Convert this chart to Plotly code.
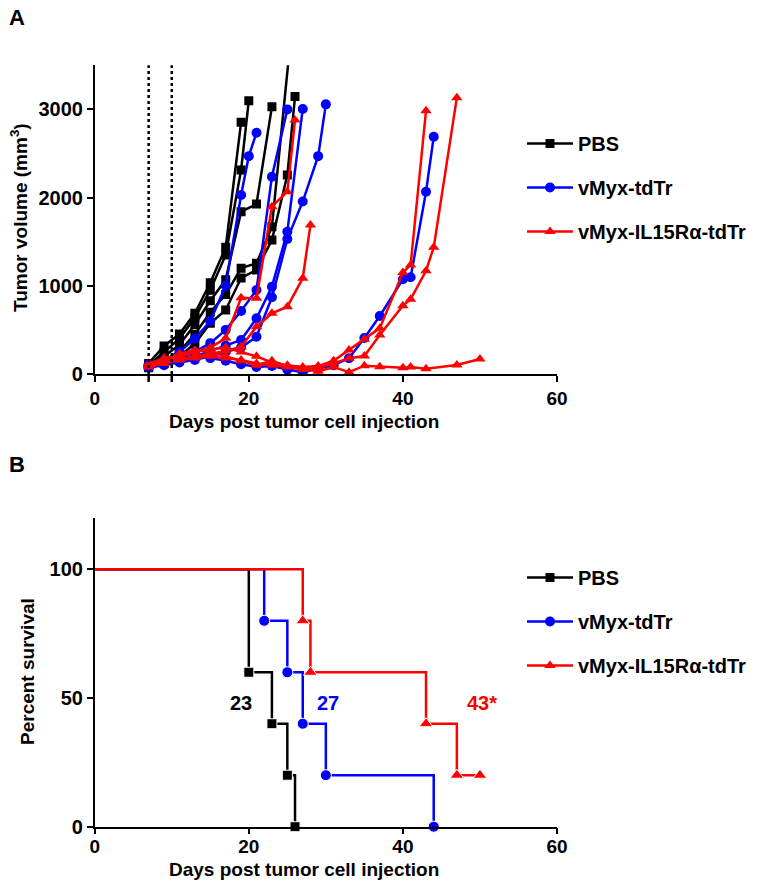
import plotly.graph_objects as go

# ---------------- DATA ----------------
GROUP_NAMES = ["PBS", "vMyx-tdTr", "vMyx-IL15Rα-tdTr"]
GROUP_COLORS = ["#000000", "#0000ff", "#ff0000"]
GROUP_SYMBOLS = ["square", "circle", "triangle-up"]

# Panel A: tumor volume per mouse (days, mm^3)
PBS_M1_DAYS = [7, 9, 11, 13, 15, 17, 19, 20]
PBS_M1_VOL = [100, 250, 400, 640, 950, 1350, 2313, 3099]
PBS_M2_DAYS = [7, 9, 11, 13, 15, 17, 19]
PBS_M2_VOL = [120, 318, 453, 688, 1035, 1436, 2853]
PBS_M3_DAYS = [7, 9, 11, 13, 15, 17, 19, 21, 23]
PBS_M3_VOL = [90, 200, 330, 560, 830, 1070, 1840, 1927, 3031]
PBS_M4_DAYS = [7, 9, 11, 13, 15, 17, 19, 21, 23, 26]
PBS_M4_VOL = [80, 150, 260, 450, 700, 900, 1200, 1255, 1670, 4300]
PBS_M5_DAYS = [7, 9, 11, 13, 15, 17, 19, 21, 23, 25, 26]
PBS_M5_VOL = [70, 120, 200, 345, 575, 726, 1088, 1180, 1519, 2256, 3145]

TDTR_M1_DAYS = [7, 9, 11, 13, 15, 17, 19, 20, 21]
TDTR_M1_VOL = [90, 150, 250, 400, 600, 1000, 2030, 2470, 2736]
TDTR_M2_DAYS = [7, 9, 11, 13, 15, 17, 19, 21, 23, 25]
TDTR_M2_VOL = [100, 130, 180, 250, 350, 500, 714, 952, 2237, 3000]
TDTR_M3_DAYS = [7, 9, 11, 13, 15, 17, 19, 21, 23, 25, 27]
TDTR_M3_VOL = [80, 110, 150, 200, 260, 320, 385, 631, 990, 1614, 3005]
TDTR_M4_DAYS = [7, 9, 11, 13, 15, 17, 19, 21, 23, 25, 27, 29, 30]
TDTR_M4_VOL = [70, 100, 130, 160, 200, 250, 300, 423, 870, 1530, 1955, 2470, 3057]
TDTR_M5_DAYS = [7, 9, 11, 13, 15, 17, 19, 21, 23, 25, 27, 29, 31, 33, 35, 37, 40, 41, 43, 44]
TDTR_M5_VOL = [110, 150, 180, 200, 180, 150, 110, 80, 90, 50, 20, 60, 100, 178, 408, 658, 1074, 1096, 2067, 2690]

IL15_M1_DAYS = [7, 9, 11, 13, 15, 17, 19, 21, 23, 25, 26]
IL15_M1_VOL = [100, 150, 200, 250, 300, 405, 865, 858, 1897, 2067, 2880]
IL15_M2_DAYS = [7, 9, 11, 13, 15, 17, 19, 21, 23, 25, 27, 28]
IL15_M2_VOL = [90, 130, 170, 200, 230, 260, 310, 536, 688, 763, 1085, 1690]
IL15_M3_DAYS = [7, 9, 11, 13, 15, 17, 19, 21, 23, 25, 27, 29, 31, 33, 35, 37, 40, 41, 43]
IL15_M3_VOL = [120, 180, 220, 260, 280, 300, 250, 200, 130, 100, 80, 90, 150, 272, 393, 520, 1150, 1236, 2985]
IL15_M4_DAYS = [7, 9, 11, 13, 15, 17, 19, 21, 23, 25, 27, 29, 31, 33, 35, 37, 40, 41, 43, 44, 47]
IL15_M4_VOL = [80, 120, 160, 180, 200, 180, 160, 120, 100, 80, 50, 70, 121, 178, 204, 442, 774, 847, 1171, 1436, 3133]
IL15_M5_DAYS = [7, 9, 11, 13, 15, 17, 19, 21, 23, 25, 27, 29, 31, 33, 35, 37, 40, 41, 43, 47, 50]
IL15_M5_VOL = [110, 160, 230, 270, 250, 200, 150, 100, 150, 90, 60, 30, 80, 20, 94, 83, 70, 80, 60, 102, 170]

TREATMENT_DAYS = [7, 10]

# Panel B: Kaplan-Meier survival (days, percent)
PBS_SURV_DAYS = [0, 20, 23, 25, 26]
PBS_SURV_PCT = [100, 60, 40, 20, 0]
TDTR_SURV_DAYS = [0, 22, 25, 27, 30, 44]
TDTR_SURV_PCT = [100, 80, 60, 40, 20, 0]
IL15_SURV_DAYS = [0, 27, 28, 43, 47, 50]
IL15_SURV_PCT = [100, 80, 60, 40, 20, 20]

MEDIAN_LABELS = ["23", "27", "43*"]
MEDIAN_LABEL_X = [19, 30.3, 50.3]
MEDIAN_LABEL_Y = [48, 48, 48]

X_TICKS = [0, 20, 40, 60]
YA_TICKS = [0, 1000, 2000, 3000]
YB_TICKS = [0, 50, 100]

# ---------------- FIGURE ----------------
W, H = 757, 889
FONT = "Liberation Sans, Arial, sans-serif"


def px_x(p):
    return p / W


def px_y(p):
    return 1 - p / H


XDOM = [px_x(94.7), px_x(557)]
YA_DOM = [px_y(374), px_y(65.3)]
YB_DOM = [px_y(826.7), px_y(517.8)]

fig = go.Figure()

groups_a = [
    [(PBS_M1_DAYS, PBS_M1_VOL), (PBS_M2_DAYS, PBS_M2_VOL), (PBS_M3_DAYS, PBS_M3_VOL),
     (PBS_M4_DAYS, PBS_M4_VOL), (PBS_M5_DAYS, PBS_M5_VOL)],
    [(TDTR_M1_DAYS, TDTR_M1_VOL), (TDTR_M2_DAYS, TDTR_M2_VOL), (TDTR_M3_DAYS, TDTR_M3_VOL),
     (TDTR_M4_DAYS, TDTR_M4_VOL), (TDTR_M5_DAYS, TDTR_M5_VOL)],
    [(IL15_M1_DAYS, IL15_M1_VOL), (IL15_M2_DAYS, IL15_M2_VOL), (IL15_M3_DAYS, IL15_M3_VOL),
     (IL15_M4_DAYS, IL15_M4_VOL), (IL15_M5_DAYS, IL15_M5_VOL)],
]
msize = [9, 10, 10]
msize_b = [10, 11, 12]

for gi, mice in enumerate(groups_a):
    for mi, (d, v) in enumerate(mice):
        fig.add_trace(go.Scatter(
            x=d, y=v, mode="lines+markers",
            line=dict(color=GROUP_COLORS[gi], width=2.5),
            marker=dict(symbol=GROUP_SYMBOLS[gi], size=msize[gi], color=GROUP_COLORS[gi]),
            name=GROUP_NAMES[gi], legendgroup="a" + str(gi), legend="legend",
            showlegend=(mi == 0), xaxis="x", yaxis="y",
            cliponaxis=True, hoverinfo="skip",
        ))

surv = [(PBS_SURV_DAYS, PBS_SURV_PCT), (TDTR_SURV_DAYS, TDTR_SURV_PCT), (IL15_SURV_DAYS, IL15_SURV_PCT)]
for gi, (d, p) in enumerate(surv):
    sizes = [0] + [msize_b[gi]] * (len(d) - 1)
    fig.add_trace(go.Scatter(
        x=d, y=p, mode="lines+markers", line_shape="hv",
        line=dict(color=GROUP_COLORS[gi], width=2.5),
        marker=dict(symbol=GROUP_SYMBOLS[gi], size=sizes, color=GROUP_COLORS[gi], opacity=1),
        name=GROUP_NAMES[gi], legendgroup="b" + str(gi), legend="legend2",
        showlegend=False, xaxis="x2", yaxis="y2", cliponaxis=False, hoverinfo="skip",
    ))
    fig.add_trace(go.Scatter(
        x=[None], y=[None], mode="lines+markers",
        line=dict(color=GROUP_COLORS[gi], width=2.5),
        marker=dict(symbol=GROUP_SYMBOLS[gi], size=msize[gi], color=GROUP_COLORS[gi]),
        name=GROUP_NAMES[gi], legendgroup="b" + str(gi), legend="legend2",
        showlegend=True, xaxis="x2", yaxis="y2",
    ))

for i, lab in enumerate(MEDIAN_LABELS):
    fig.add_annotation(x=MEDIAN_LABEL_X[i], y=MEDIAN_LABEL_Y[i], xref="x2", yref="y2",
                       text=lab, showarrow=False, xanchor="center", yanchor="middle",
                       font=dict(family=FONT, size=20, color=GROUP_COLORS[i], weight="bold"))

for d in TREATMENT_DAYS:
    fig.add_shape(type="line", xref="x", yref="paper", x0=d, x1=d,
                  y0=YA_DOM[0], y1=YA_DOM[1],
                  line=dict(color="black", width=2.5, dash="dot"))
    fig.add_shape(type="line", xref="x", yref="paper", x0=d, x1=d,
                  y0=YA_DOM[0] - 8 / H, y1=YA_DOM[0],
                  line=dict(color="black", width=2.5))

axis_common = dict(
    showline=True, linecolor="black", linewidth=1.5, ticks="outside", ticklen=6,
    tickwidth=1.5, tickcolor="black", showgrid=False, zeroline=False, automargin=False,
)
xtick_font = dict(family=FONT, size=19, color="black", weight="bold")
ytick_font = dict(family=FONT, size=20, color="black", weight="bold")

legend_common = dict(
    xanchor="left", yanchor="top",
    font=dict(family=FONT, size=20, color="black", weight="bold"),
    traceorder="grouped", tracegroupgap=15, itemwidth=46,
    bgcolor="rgba(0,0,0,0)",
)

fig.update_layout(
    width=W, height=H, margin=dict(l=0, r=0, t=0, b=0, pad=0, autoexpand=False),
    paper_bgcolor="white", plot_bgcolor="white",
    xaxis=dict(domain=XDOM, anchor="y", range=[0, 60], tickvals=X_TICKS,
               tickfont=xtick_font, **axis_common),
    yaxis=dict(domain=YA_DOM, anchor="x", range=[0, 3500], tickvals=YA_TICKS,
               tickfont=ytick_font, **axis_common),
    xaxis2=dict(domain=XDOM, anchor="y2", range=[0, 60], tickvals=X_TICKS,
                tickfont=xtick_font, ticklabelstandoff=-4, **axis_common),
    yaxis2=dict(domain=YB_DOM, anchor="x2", range=[0, 120], tickvals=YB_TICKS,
                tickfont=ytick_font, **axis_common),
    legend=dict(x=px_x(522), y=px_y(124), **legend_common),
    legend2=dict(x=px_x(522), y=px_y(558), **legend_common),
    showlegend=True,
)

title_font = dict(family=FONT, size=19, color="black", weight="bold")
paper_ann = dict(xref="paper", yref="paper", showarrow=False, xanchor="center", yanchor="middle")
fig.add_annotation(x=px_x(304), y=px_y(421), text="Days post tumor cell injection",
                   font=title_font, **paper_ann)
fig.add_annotation(x=px_x(304), y=px_y(869), text="Days post tumor cell injection",
                   font=title_font, **paper_ann)
fig.add_annotation(x=px_x(19), y=px_y(218), textangle=-90,
                   text="Tumor volume (mm<sup>3</sup>)", font=title_font, **paper_ann)
fig.add_annotation(x=px_x(27), y=px_y(672), textangle=-90,
                   text="Percent survival", font=title_font, **paper_ann)
letter_font = dict(family=FONT, size=22, color="black", weight="bold")
fig.add_annotation(x=px_x(17), y=px_y(18), text="A", font=letter_font, **paper_ann)
fig.add_annotation(x=px_x(17), y=px_y(464), text="B", font=letter_font, **paper_ann)

fig.write_html("out.html", config={"displayModeBar": False},
               post_script="document.body.style.margin='0';")
